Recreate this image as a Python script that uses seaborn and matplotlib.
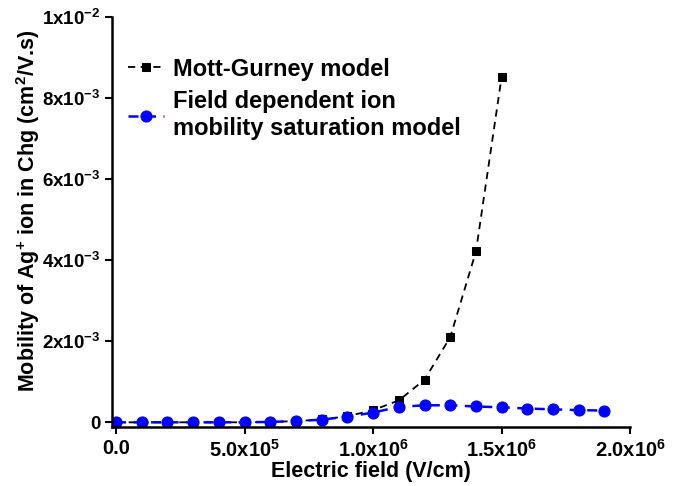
import pandas as pd
import seaborn as sns
import matplotlib.pyplot as plt

# ---------------------------------------------------------
# DATA
# ---------------------------------------------------------
mg_field = [0, 1e5, 2e5, 3e5, 4e5, 5e5, 6e5, 7e5, 8e5, 9e5, 1.0e6, 1.1e6, 1.2e6, 1.3e6, 1.4e6, 1.5e6]
mg_mobility = [0.0, 0.0, 0.0, 0.0, 0.0, 0.001e-3, 0.01e-3, 0.03e-3, 0.07e-3, 0.15e-3,
               0.30e-3, 0.54e-3, 1.05e-3, 2.10e-3, 4.21e-3, 8.52e-3]

fd_field = [0, 1e5, 2e5, 3e5, 4e5, 5e5, 6e5, 7e5, 8e5, 9e5, 1.0e6,
            1.1e6, 1.2e6, 1.3e6, 1.4e6, 1.5e6, 1.6e6, 1.7e6, 1.8e6, 1.9e6]
fd_mobility = [0.0, 0.0, 0.0, 0.0, 0.0, 0.001e-3, 0.01e-3, 0.03e-3, 0.066e-3, 0.14e-3, 0.24e-3,
               0.38e-3, 0.42e-3, 0.42e-3, 0.39e-3, 0.37e-3, 0.34e-3, 0.32e-3, 0.30e-3, 0.29e-3]

mg_label = 'Mott-Gurney model'
fd_label = 'Field dependent ion\nmobility saturation model'

x_ticks = [0, 5e5, 1e6, 1.5e6, 2e6]
x_tick_labels = ['0.0', '5.0x10$^{5}$', '1.0x10$^{6}$', '1.5x10$^{6}$', '2.0x10$^{6}$']
y_ticks = [0, 2e-3, 4e-3, 6e-3, 8e-3, 1e-2]
y_tick_labels = ['0', '2x10$^{-3}$', '4x10$^{-3}$', '6x10$^{-3}$', '8x10$^{-3}$', '1x10$^{-2}$']

mg = pd.DataFrame({'field': mg_field, 'mobility': mg_mobility})
fd = pd.DataFrame({'field': fd_field, 'mobility': fd_mobility})

# ---------------------------------------------------------
# STYLE
# ---------------------------------------------------------
sns.set_style('ticks')
plt.rcParams['font.family'] = ['Liberation Sans', 'DejaVu Sans']
plt.rcParams['font.weight'] = 'bold'
plt.rcParams['text.color'] = 'black'
plt.rcParams['axes.labelcolor'] = 'black'
plt.rcParams['mathtext.fontset'] = 'custom'
plt.rcParams['mathtext.rm'] = 'Liberation Sans:bold'
plt.rcParams['mathtext.it'] = 'Liberation Sans:bold'
plt.rcParams['mathtext.bf'] = 'Liberation Sans:bold'

fig = plt.figure(figsize=(6.91, 4.86), dpi=100)
ax = fig.add_axes([0.162, 0.121, 0.75, 0.845])

# ---------------------------------------------------------
# PLOT
# ---------------------------------------------------------
sns.lineplot(data=mg, x='field', y='mobility', ax=ax, color='black',
             marker='s', markersize=6, markeredgecolor='black',
             linewidth=1.3, linestyle=(0, (4, 3)), label=mg_label)
sns.lineplot(data=fd, x='field', y='mobility', ax=ax, color='#0000ff',
             marker='o', markersize=8, markeredgecolor='#0000ff',
             linewidth=1.8, linestyle=(0, (4, 3)), label=fd_label)

# ---------------------------------------------------------
# AXES
# ---------------------------------------------------------
ax.set_xlim(-1.6e4, 2e6)
ax.set_ylim(-0.12e-3, 1e-2)
ax.set_xticks(x_ticks)
ax.set_xticklabels(x_tick_labels, fontsize=14.5, fontweight='bold')
ax.set_yticks(y_ticks)
ax.set_yticklabels(y_tick_labels, fontsize=13.5, fontweight='bold')
ax.tick_params(axis='both', direction='out', length=5, width=1.5, colors='black')
for side in ['left', 'bottom']:
    ax.spines[side].set_linewidth(1.8)
    ax.spines[side].set_color('black')
sns.despine(ax=ax)

ax.set_xlabel('Electric field (V/cm)', fontsize=15.5, fontweight='bold', labelpad=0)
ax.set_ylabel('Mobility of Ag$^{+}$ ion in Chg (cm$^{2}$/V.s)', fontsize=15.5,
              fontweight='bold', labelpad=0)
ax.yaxis.set_label_coords(-0.134, 0.527)

leg = ax.legend(loc='upper left', bbox_to_anchor=(0.0, 0.94), frameon=False,
                prop={'size': 17, 'weight': 'bold'}, handlelength=1.5,
                handletextpad=0.4, labelspacing=0.4, borderaxespad=0.3)

fig.savefig('out.png', dpi=100)
